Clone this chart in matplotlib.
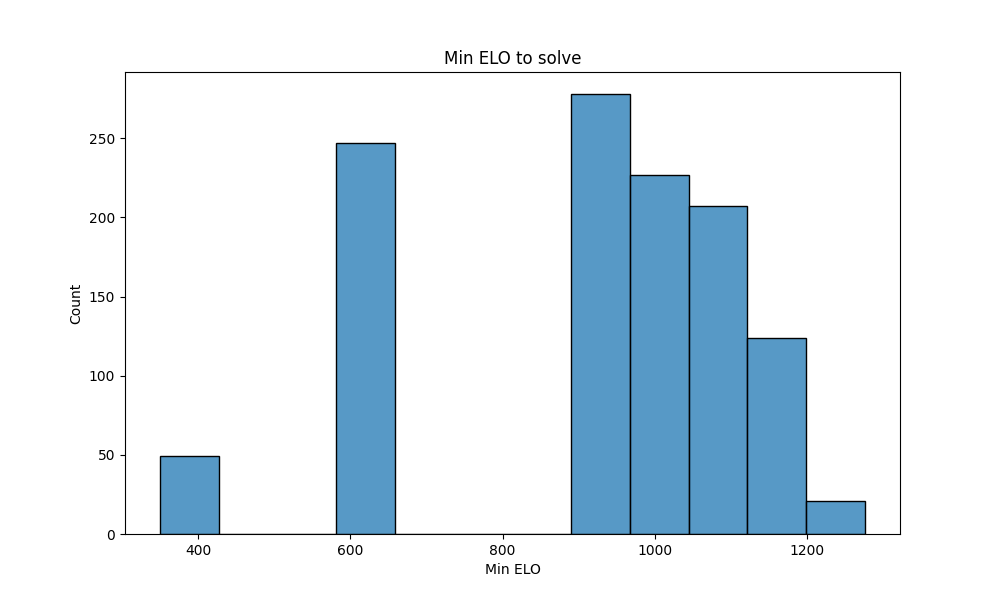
import numpy as np
import pandas as pd
import matplotlib
matplotlib.use("Agg")
import matplotlib.pyplot as plt
import seaborn as sns

# histogram: 12 equal bins between min and max ELO
elo_min = 350
elo_max = 1276
counts = [49, 0, 0, 247, 0, 0, 0, 278, 227, 207, 124, 21]

edges = np.linspace(elo_min, elo_max, len(counts) + 1)
df = pd.DataFrame({
    "Min ELO": (edges[:-1] + edges[1:]) / 2,
    "n": counts,
})

fig, ax = plt.subplots(figsize=(10, 6), dpi=100)
sns.histplot(data=df, x="Min ELO", weights="n", bins=list(edges), ax=ax)
ax.set_title("Min ELO to solve")
ax.set_xlabel("Min ELO")
ax.set_ylabel("Count")
fig.savefig("out.png", dpi=100)
